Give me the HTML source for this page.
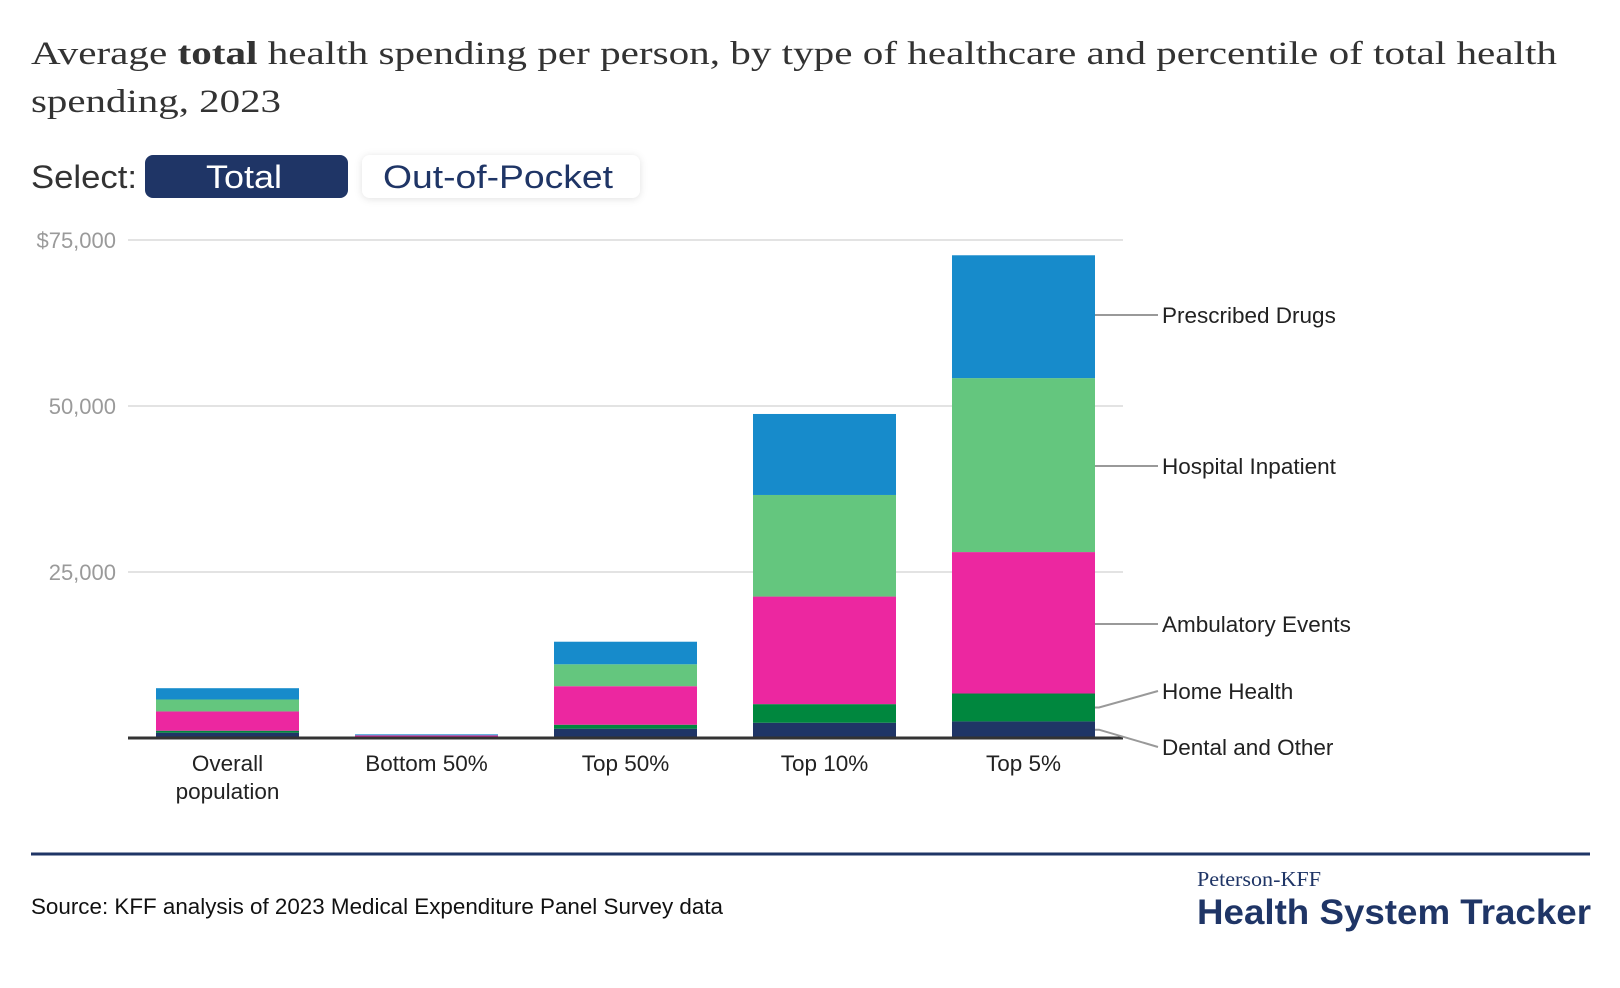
<!DOCTYPE html>
<html><head><meta charset="utf-8"><style>
html,body{margin:0;padding:0;background:#fff;}
svg{display:block;}
</style></head><body>
<svg id="chart" width="1620" height="988" viewBox="0 0 1620 988" xmlns="http://www.w3.org/2000/svg">
<defs><filter id="sh" x="-10%" y="-30%" width="120%" height="160%"><feDropShadow dx="0" dy="1" stdDeviation="4" flood-color="#000" flood-opacity="0.12"/></filter></defs>
<text x="31" y="64" font-family="'Liberation Serif',serif" font-size="33" fill="#333" textLength="1526" lengthAdjust="spacingAndGlyphs">Average <tspan font-weight="bold">total</tspan> health spending per person, by type of healthcare and percentile of total health</text>
<text x="31" y="112" font-family="'Liberation Serif',serif" font-size="33" fill="#333" textLength="250" lengthAdjust="spacingAndGlyphs">spending, 2023</text>
<text x="31" y="188" font-family="'Liberation Sans',sans-serif" font-size="32" fill="#333" textLength="106" lengthAdjust="spacingAndGlyphs">Select:</text>
<g><rect x="145" y="155" width="203" height="43" rx="8" fill="#1f3566"/><text x="244" y="188" text-anchor="middle" font-family="'Liberation Sans',sans-serif" font-size="32" fill="#fff" textLength="76" lengthAdjust="spacingAndGlyphs">Total</text></g>
<g><rect x="362" y="155" width="278" height="43" rx="8" fill="#fff" filter="url(#sh)"/><text x="498" y="188" text-anchor="middle" font-family="'Liberation Sans',sans-serif" font-size="32" fill="#1f3566" textLength="230" lengthAdjust="spacingAndGlyphs">Out-of-Pocket</text></g>
<g id="plot"></g>
<line x1="31" y1="854" x2="1590" y2="854" stroke="#1f3566" stroke-width="3"/>
<text x="31" y="914" font-family="'Liberation Sans',sans-serif" font-size="22" fill="#111" textLength="692" lengthAdjust="spacingAndGlyphs">Source: KFF analysis of 2023 Medical Expenditure Panel Survey data</text>
<text x="1197" y="886" font-family="'Liberation Serif',serif" font-size="21" fill="#1f3566" textLength="124" lengthAdjust="spacingAndGlyphs">Peterson-KFF</text>
<text x="1197" y="924" font-family="'Liberation Sans',sans-serif" font-size="35" font-weight="bold" fill="#1f3566" textLength="394" lengthAdjust="spacingAndGlyphs">Health System Tracker</text>
</svg>
<script>
const categories = ["Overall|population","Bottom 50%","Top 50%","Top 10%","Top 5%"];
const seriesNames = ["Dental and Other","Home Health","Ambulatory Events","Hospital Inpatient","Prescribed Drugs"];
const dental = [0.8, 0.1, 1.4, 2.3, 2.5];
const homeHealth = [0.3, 0.03, 0.6, 2.8, 4.2];
const ambulatory = [2.9, 0.25, 5.8, 16.2, 21.3];
const inpatient = [1.8, 0.02, 3.3, 15.3, 26.2];
const drugs = [1.7, 0.15, 3.4, 12.2, 18.5];
const yTicks = [25000, 50000, 75000];
const yTickLabels = ["25,000","50,000","$75,000"];
const colors = ["#1f3566","#00873e","#ec27a0","#64c67e","#178bcb"];

const NS="http://www.w3.org/2000/svg";
const plot=document.getElementById('plot');
const X0=128,X1=1123,Y0=738,YT=240,YMAX=75000;
const y=v=>Y0-(v/YMAX)*(Y0-YT);
const band=(X1-X0)/categories.length, bw=143;
const xc=i=>X0+band*(i+0.5);
function mk(t,a){const e=document.createElementNS(NS,t);for(const k in a)e.setAttribute(k,a[k]);plot.appendChild(e);return e;}
yTicks.forEach((t,i)=>{
  const l=mk('line',{x1:X0,x2:X1,y1:y(t),y2:y(t),stroke:'#e3e3e3','stroke-width':2});
  
  
  const tx=mk('text',{x:116,y:y(t)+8,'text-anchor':'end','font-family':"'Liberation Sans',sans-serif",'font-size':22,fill:'#9a9a9a'});
  tx.textContent=yTickLabels[i];
  
  
});
const series=[dental,homeHealth,ambulatory,inpatient,drugs];
const segMid=[];
categories.forEach((c,i)=>{
  let cum=0;
  series.forEach((s,k)=>{
    const v=s[i]*1000;
    const r=mk('rect',{x:xc(i)-bw/2,y:y(cum+v),width:bw,height:Math.max(0,y(cum)-y(cum+v)),fill:colors[k]});
    
    
    if(i===categories.length-1) segMid[k]=(y(cum)+y(cum+v))/2;
    cum+=v;
  });
  const parts=c.split('|');
  parts.forEach((p,j)=>{
    const t=mk('text',{x:xc(i),y:771+j*28,'text-anchor':'middle','font-family':"'Liberation Sans',sans-serif",'font-size':22.5,fill:'#222'});
    t.textContent=p;
    
    
  });
});
const base=mk('line',{x1:X0,x2:X1,y1:Y0,y2:Y0,stroke:'#333','stroke-width':3});


const labelY=[755,699,632,474,323];
const bx=xc(categories.length-1)+bw/2;
seriesNames.forEach((n,k)=>{
  const ly=labelY[k];
  const sy=k>=2?ly-8:segMid[k];
  const l=mk('polyline',{points:`${bx},${sy} ${bx+4},${sy} ${1158},${ly-8}`,fill:'none',stroke:'#999','stroke-width':2});
  
  
  const t=mk('text',{x:1162,y:ly,'font-family':"'Liberation Sans',sans-serif",'font-size':22.5,fill:'#222'});
  t.textContent=n;
  
  
});
</script>
</body></html>
